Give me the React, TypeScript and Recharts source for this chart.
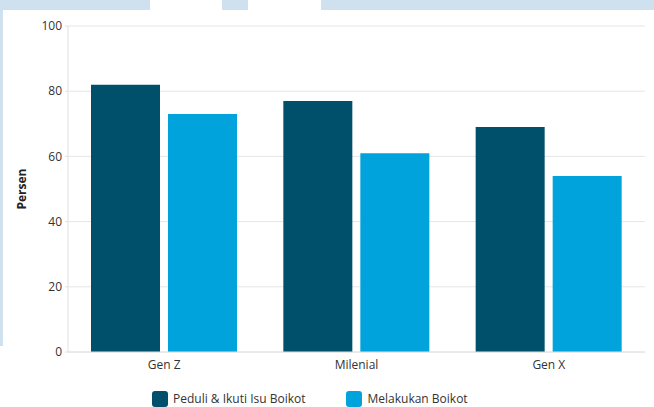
import React from 'react';
import { BarChart, Bar, XAxis, YAxis, CartesianGrid, Legend } from 'recharts';

const categories = ['Gen Z', 'Milenial', 'Gen X'];
const peduliValues = [82, 77, 69];
const boikotValues = [73, 61, 54];
const yTicks = [0, 20, 40, 60, 80, 100];
const seriesNames = ['Peduli & Ikuti Isu Boikot', 'Melakukan Boikot'];
const seriesColors = ['#00506b', '#00a3dc'];

const data = categories.map((c, i) => ({ name: c, peduli: peduliValues[i], boikot: boikotValues[i] }));

const FONT = '"Open Sans", "Noto Sans", sans-serif';

const YLabel = (props: any) => {
  const vb = props.viewBox || {};
  const cy = (vb.y || 0) + (vb.height || 0) / 2;
  const x = 26;
  return (
    <text x={x} y={cy} transform={`rotate(-90 ${x} ${cy})`} textAnchor="middle" fontFamily={FONT} fontSize={12} fontWeight="bold" fill="#222">
      Persen
    </text>
  );
};

const LegendContent = () => (
  <div style={{ position: 'relative', height: 33 }}>
    <div style={{ position: 'absolute', left: 152, top: 16, display: 'flex', alignItems: 'center', fontFamily: FONT, fontSize: 12, color: '#333' }}>
      {seriesNames.map((n, i) => (
        <div key={n} style={{ display: 'flex', alignItems: 'center', marginRight: i === 0 ? 41 : 0 }}>
          <div style={{ width: 16, height: 16, borderRadius: 3, background: seriesColors[i], marginRight: 5 }} />
          <span>{n}</span>
        </div>
      ))}
    </div>
  </div>
);

export default function App() {
  return (
    <div style={{ position: 'fixed', left: 0, top: 0, width: 654, height: 407, background: '#fff', overflow: 'hidden' }}>
      <div style={{ position: 'absolute', left: 0, top: 0, width: 150, height: 10, background: '#cfe1ef' }} />
      <div style={{ position: 'absolute', left: 222, top: 0, width: 26, height: 10, background: '#cfe1ef' }} />
      <div style={{ position: 'absolute', left: 321, top: 0, width: 333, height: 10, background: '#cfe1ef' }} />
      <div style={{ position: 'absolute', left: 0, top: 0, width: 3, height: 346, background: '#cfe1ef' }} />
      <div style={{ position: 'absolute', left: 0, top: 0 }}>
        <BarChart width={654} height={407} data={data} margin={{ top: 26, right: 9, left: 0, bottom: 0 }} barGap={8} barCategoryGap={23}>
          <CartesianGrid vertical={false} stroke="#e6e6e6" />
          <XAxis dataKey="name" axisLine={{ stroke: '#e0e0e0' }} tickLine={false} height={22} tick={{ fontFamily: FONT, fontSize: 12, fill: '#333' }} tickMargin={2} />
          <YAxis domain={[0, 100]} ticks={yTicks} width={68} axisLine={{ stroke: '#e0e0e0' }} tickLine={{ stroke: '#e0e0e0' }} tickSize={3} tickMargin={3} tick={{ fontFamily: FONT, fontSize: 12, fill: '#333' }} label={<YLabel />} />
          <Legend verticalAlign="bottom" height={33} wrapperStyle={{ left: 0, width: 654 }} content={<LegendContent />} />
          <Bar dataKey="peduli" name={seriesNames[0]} fill={seriesColors[0]} isAnimationActive={false} />
          <Bar dataKey="boikot" name={seriesNames[1]} fill={seriesColors[1]} isAnimationActive={false} />
        </BarChart>
      </div>
    </div>
  );
}
